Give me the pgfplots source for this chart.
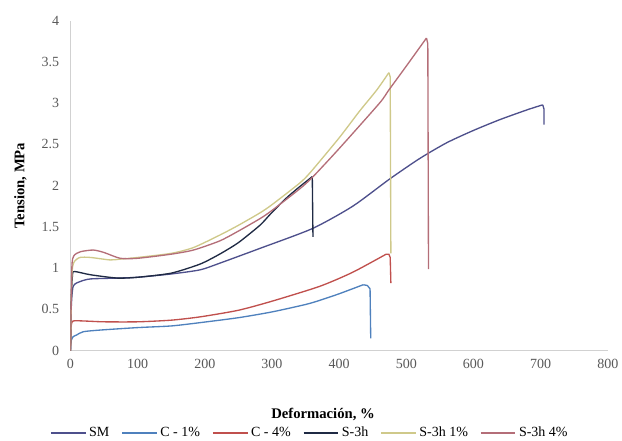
\documentclass[border=0pt]{standalone}
\usepackage{fontspec}
\setmainfont{Liberation Serif}
\usepackage{pgfplots}
\pgfplotsset{compat=1.18}

\definecolor{cSM}{RGB}{78,80,140}
\definecolor{cC1}{RGB}{79,129,189}
\definecolor{cC4}{RGB}{192,80,77}
\definecolor{cS3}{RGB}{31,42,68}
\definecolor{cS31}{RGB}{207,201,138}
\definecolor{cS34}{RGB}{180,110,120}

\begin{document}
\begin{tikzpicture}
% 1px = 0.75pt, page 622x441 px
\path[use as bounding box] (-52.875pt,-67.725pt) rectangle (413.625pt,263.025pt);
\begin{axis}[
    at={(0,0)}, anchor=south west,
    scale only axis,
    width=403pt, height=247.5pt,
    xmin=0, xmax=800,
    ymin=0, ymax=4,
    xtick={0,100,...,800},
    ytick={0,0.5,1,1.5,2,2.5,3,3.5,4},
    axis x line*=bottom,
    axis y line*=left,
    axis line style={-, draw=black!18, line width=0.8pt},
    major tick length=0pt,
    /pgf/number format/assume math mode=true,
    tick label style={font=\fontsize{10.5}{12}\selectfont, text=black!65},
    xticklabel style={yshift=-3pt},
    yticklabel style={xshift=-5pt},
    xlabel={\textbf{Deformación, \%}},
    ylabel={\textbf{Tension, MPa}},
    label style={font=\fontsize{11}{13}\selectfont},
    xlabel style={at={(axis description cs:0.47,0)}, anchor=center, yshift=-47.5pt},
    ylabel style={at={(axis description cs:0,0.5)}, anchor=center, yshift=37.5pt},
    legend columns=-1,
    legend style={at={(0.446,0)}, anchor=center, yshift=-61.5pt, draw=none,
        font=\fontsize{10.5}{12}\selectfont,
        /tikz/every even column/.append style={column sep=7pt},
        inner sep=0pt},
    legend cell align=left,
    legend image code/.code={\draw[#1, line width=1.3pt] (0pt,0pt) -- (26pt,0pt);},
    every axis plot/.append style={line width=1pt},
]
% legend images
\addlegendimage{color=cSM}
\addlegendentry{SM}
\addlegendimage{color=cC1}
\addlegendentry{C - 1\%}
\addlegendimage{color=cC4}
\addlegendentry{C - 4\%}
\addlegendimage{color=cS3}
\addlegendentry{S-3h}
\addlegendimage{color=cS31}
\addlegendentry{S-3h 1\%}
\addlegendimage{color=cS34}
\addlegendentry{S-3h 4\%}
% SM
\addplot[color=cSM, smooth, tension=0.4, forget plot] coordinates {
(0,0) (1,0.5) (4,0.78) (15,0.84) (30,0.87) (70,0.88) (100,0.89) (150,0.93)
(193,0.98) (222,1.06) (282,1.24) (360,1.48) (420,1.75) (475,2.08) (520,2.33)
(560,2.52) (600,2.67) (639,2.80) (680,2.92) (703,2.98)
};
\addplot[color=cSM, forget plot] coordinates {(703,2.98) (705,2.93) (705,2.74)};
% C - 1%
\addplot[color=cC1, smooth, tension=0.4, forget plot] coordinates {
(0,0) (1,0.12) (4,0.17) (9,0.19) (19,0.23) (44,0.25) (100,0.28) (150,0.30)
(193,0.34) (250,0.40) (300,0.47) (350,0.56) (371,0.61) (400,0.69) (436,0.80)
};
\addplot[color=cC1, forget plot] coordinates {(436,0.80) (442,0.79) (446,0.75) (447,0.15)};
% C - 4%
\addplot[color=cC4, smooth, tension=0.4, forget plot] coordinates {
(0,0) (1,0.30) (4,0.36) (20,0.36) (50,0.35) (100,0.35) (150,0.37) (193,0.41)
(250,0.49) (300,0.60) (371,0.78) (420,0.95) (470,1.17)
};
\addplot[color=cC4, forget plot] coordinates {(470,1.17) (474,1.17) (476,1.13) (477,0.82)};
% S-3h
\addplot[color=cS3, smooth, tension=0.4, forget plot] coordinates {
(0,0) (1,0.6) (3,0.92) (6,0.96) (30,0.92) (70,0.88) (100,0.89) (150,0.94)
(193,1.05) (222,1.17) (250,1.31) (282,1.52) (297,1.65) (320,1.84) (340,1.98)
(360,2.11)
};
\addplot[color=cS3, forget plot] coordinates {(360,2.11) (361,1.38)};
% S-3h 1%
\addplot[color=cS31, smooth, tension=0.4, forget plot] coordinates {
(0,0) (2,0.9) (5,1.07) (14,1.13) (30,1.13) (59,1.10) (74,1.11) (100,1.13)
(150,1.18) (183,1.25) (222,1.40) (250,1.52) (282,1.67) (300,1.77) (341,2.03)
(357,2.16) (400,2.58) (430,2.90) (456,3.16) (474,3.37)
};
\addplot[color=cS31, forget plot] coordinates {(474,3.37) (476,3.32) (477,1.18)};
% S-3h 4%
\addplot[color=cS34, smooth, tension=0.4, forget plot] coordinates {
(0,0) (2,1.0) (5,1.15) (15,1.20) (34,1.22) (50,1.19) (74,1.12) (100,1.12)
(150,1.17) (183,1.22) (222,1.33) (250,1.45) (282,1.60) (300,1.70) (341,1.96)
(360,2.10) (400,2.45) (460,3.00) (474,3.16) (500,3.45) (530,3.79)
};
\addplot[color=cS34, forget plot] coordinates {(530,3.79) (532,3.72) (533,0.99)};
\end{axis}
\end{tikzpicture}
\end{document}
